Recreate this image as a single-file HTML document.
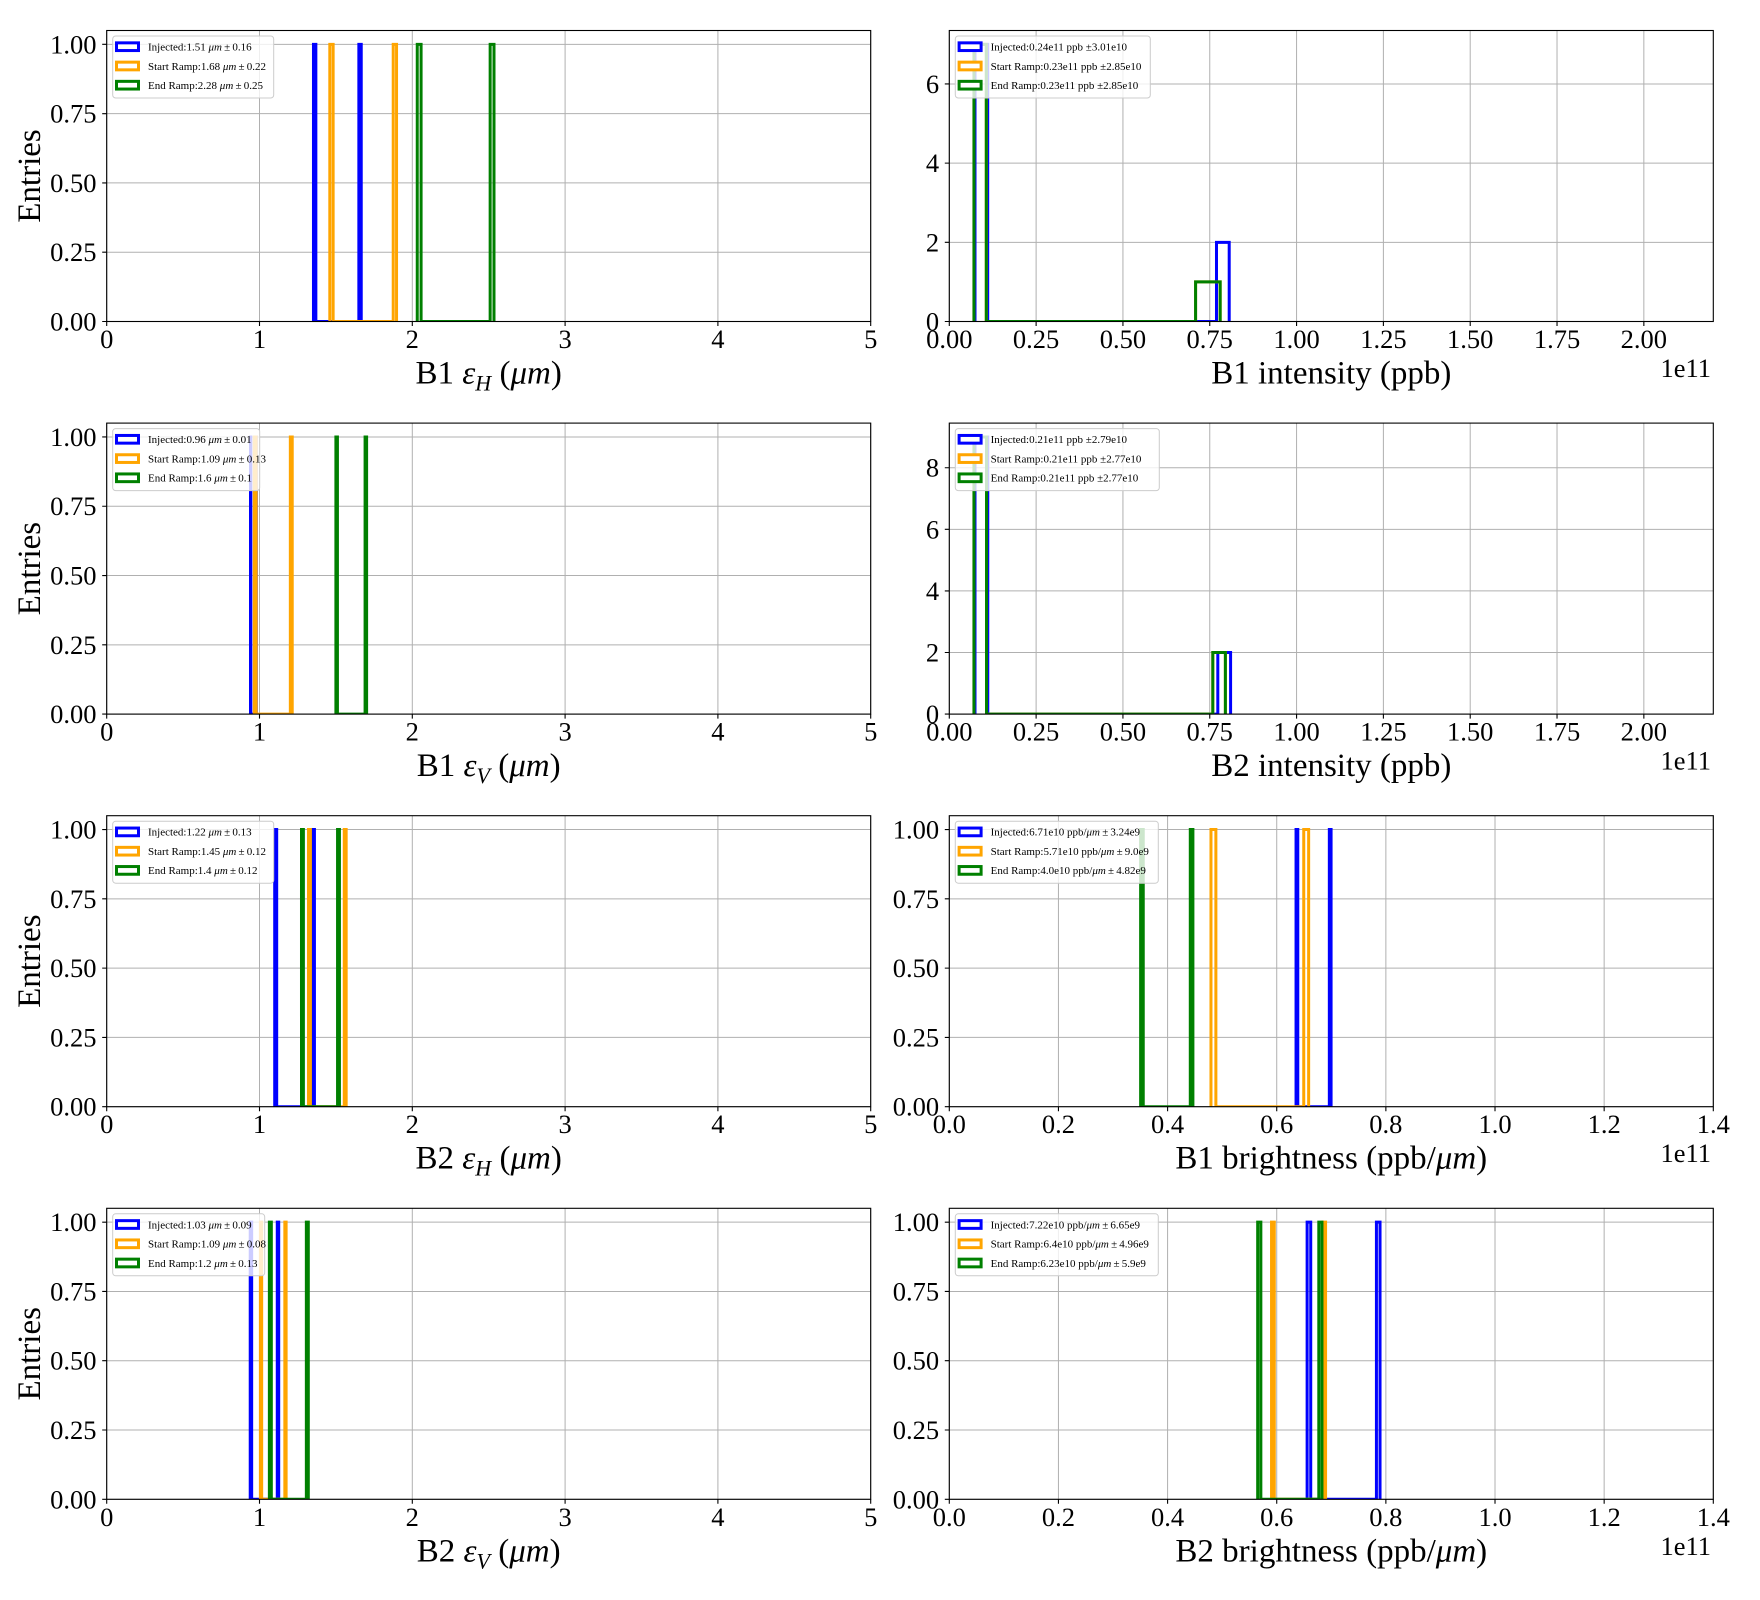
<!DOCTYPE html>
<html><head><meta charset="utf-8">
<style>
html,body{margin:0;padding:0;background:#fff;}
svg{display:block;font-family:"Liberation Serif","DejaVu Serif",serif;}
.d path{vector-effect:non-scaling-stroke;fill:none;stroke-width:3;stroke-linejoin:miter;}
.d path.g{stroke:#b0b0b0;stroke-width:1;}
.sp{fill:none;stroke:#000;stroke-width:1.1;}
.tk{fill:none;stroke:#000;stroke-width:1.1;}
.tl{font-size:26.5px;fill:#000;}
.yl{text-anchor:end;}
.xl{text-anchor:middle;}
.lab{font-size:33px;text-anchor:middle;fill:#000;}
.off{font-size:26.5px;text-anchor:end;}
.lg{fill:#fff;fill-opacity:0.8;stroke:#cccccc;stroke-width:1;}
.lt{font-size:11px;fill:#000;}
.pb{fill:#fff;stroke:#0000ff;stroke-width:3;}
.po{fill:#fff;stroke:#ffa500;stroke-width:3;}
.pg{fill:#fff;stroke:#008000;stroke-width:3;}
</style></head>
<body>
<svg width="1760" height="1600" viewBox="0 0 1760 1600" xmlns="http://www.w3.org/2000/svg">
<defs>
<clipPath id="cL" clipPathUnits="userSpaceOnUse"><rect x="0" y="0" width="5" height="1.05"/></clipPath>
<clipPath id="c2" clipPathUnits="userSpaceOnUse"><rect x="0" y="0" width="2.2" height="7.35"/></clipPath>
<clipPath id="c4" clipPathUnits="userSpaceOnUse"><rect x="0" y="0" width="2.2" height="9.45"/></clipPath>
<clipPath id="c6" clipPathUnits="userSpaceOnUse"><rect x="0" y="0" width="1.4" height="1.05"/></clipPath>
<path id="tkL" class="tk" d="M0 0v4.5M152.8 0v4.5M305.6 0v4.5M458.4 0v4.5M611.2 0v4.5M764 0v4.5M0 0h-4.5M0 -69.29h-4.5M0 -138.57h-4.5M0 -207.86h-4.5M0 -277.14h-4.5"/>
<path id="tk2" class="tk" d="M0 0v4.5M86.82 0v4.5M173.64 0v4.5M260.45 0v4.5M347.27 0v4.5M434.09 0v4.5M520.91 0v4.5M607.73 0v4.5M694.55 0v4.5M0 0h-4.5M0 -79.18h-4.5M0 -158.37h-4.5M0 -237.55h-4.5"/>
<path id="tk4" class="tk" d="M0 0v4.5M86.82 0v4.5M173.64 0v4.5M260.45 0v4.5M347.27 0v4.5M434.09 0v4.5M520.91 0v4.5M607.73 0v4.5M694.55 0v4.5M0 0h-4.5M0 -61.59h-4.5M0 -123.18h-4.5M0 -184.76h-4.5M0 -246.35h-4.5"/>
<path id="tk6" class="tk" d="M0 0v4.5M109.14 0v4.5M218.29 0v4.5M327.43 0v4.5M436.57 0v4.5M545.71 0v4.5M654.86 0v4.5M764 0v4.5M0 0h-4.5M0 -69.29h-4.5M0 -138.57h-4.5M0 -207.86h-4.5M0 -277.14h-4.5"/>
</defs>

<!-- ================= PANEL 1: B1 eps_H ================= -->
<g transform="translate(106.7,321.5)">
 <g class="d" transform="scale(152.8,-277.14)">
  <path class="g" d="M0 0V1.05M1 0V1.05M2 0V1.05M3 0V1.05M4 0V1.05M5 0V1.05M0 0H5M0 .25H5M0 .5H5M0 .75H5M0 1H5"/>
  <g clip-path="url(#cL)">
   <path stroke="#0000ff" d="M1.3532 0V1H1.3688V0H1.6502V1H1.6658V0"/>
   <path stroke="#ffa500" d="M1.4601 0V1H1.4819V0H1.8751V1H1.8969V0"/>
   <path stroke="#008000" d="M2.0324 0V1H2.0575V0H2.5095V1H2.5346V0"/>
  </g>
 </g>
 <rect class="sp" x="0" y="-291" width="764" height="291"/>
 <use href="#tkL"/>
 <g class="tl yl"><text x="-10.2" y="9">0.00</text><text x="-10.2" y="-60.3">0.25</text><text x="-10.2" y="-129.6">0.50</text><text x="-10.2" y="-198.9">0.75</text><text x="-10.2" y="-268.1">1.00</text></g>
 <g class="tl xl"><text x="0" y="26.5">0</text><text x="152.8" y="26.5">1</text><text x="305.6" y="26.5">2</text><text x="458.4" y="26.5">3</text><text x="611.2" y="26.5">4</text><text x="764" y="26.5">5</text></g>
 <text class="lab" x="382" y="62">B1 <tspan font-style="italic">ε</tspan><tspan font-style="italic" font-size="22" dy="7">H</tspan><tspan dy="-7"> (</tspan><tspan font-style="italic">μm</tspan>)</text>
 <text class="lab" transform="translate(-66.7,-145.5) rotate(-90)">Entries</text>
 <rect class="lg" x="6" y="-285.5" width="161" height="62" rx="3"/>
 <rect class="pb" x="9.8" y="-278.65" width="22" height="7.7"/>
 <rect class="po" x="9.8" y="-259.35" width="22" height="7.7"/>
 <rect class="pg" x="9.8" y="-240.15" width="22" height="7.7"/>
 <text class="lt" x="41.3" y="-271">Injected:1.51 <tspan font-style="italic">μm</tspan>&#8201;±&#8201;0.16</text>
 <text class="lt" x="41.3" y="-251.7">Start Ramp:1.68 <tspan font-style="italic">μm</tspan>&#8201;±&#8201;0.22</text>
 <text class="lt" x="41.3" y="-232.5">End Ramp:2.28 <tspan font-style="italic">μm</tspan>&#8201;±&#8201;0.25</text>
</g>

<!-- ================= PANEL 2: B1 intensity ================= -->
<g transform="translate(949.3,321.5)">
 <g class="d" transform="scale(347.27,-39.592)">
  <path class="g" d="M0 0V7.35M.25 0V7.35M.5 0V7.35M.75 0V7.35M1 0V7.35M1.25 0V7.35M1.5 0V7.35M1.75 0V7.35M2 0V7.35M0 0H2.2M0 2H2.2M0 4H2.2M0 6H2.2"/>
  <g clip-path="url(#c2)">
   <path stroke="#0000ff" d="M0.074 0V7H0.1106V0H0.7694V2H0.806V0"/>
   <path stroke="#ffa500" d="M0.071 0V7H0.1065V0H0.7092V1H0.78V0"/>
   <path stroke="#008000" d="M0.071 0V7H0.1065V0H0.7092V1H0.78V0"/>
  </g>
 </g>
 <rect class="sp" x="0" y="-291" width="764" height="291"/>
 <use href="#tk2"/>
 <g class="tl yl"><text x="-10.2" y="9">0</text><text x="-10.2" y="-70.2">2</text><text x="-10.2" y="-149.4">4</text><text x="-10.2" y="-228.6">6</text></g>
 <g class="tl xl"><text x="0" y="26.5">0.00</text><text x="86.82" y="26.5">0.25</text><text x="173.64" y="26.5">0.50</text><text x="260.45" y="26.5">0.75</text><text x="347.27" y="26.5">1.00</text><text x="434.09" y="26.5">1.25</text><text x="520.91" y="26.5">1.50</text><text x="607.73" y="26.5">1.75</text><text x="694.55" y="26.5">2.00</text></g>
 <text class="tl off" x="761.7" y="55.5">1e11</text>
 <text class="lab" x="382" y="62">B1 intensity (ppb)</text>
 <rect class="lg" x="6" y="-285.5" width="195" height="62" rx="3"/>
 <rect class="pb" x="9.8" y="-278.65" width="22" height="7.7"/>
 <rect class="po" x="9.8" y="-259.35" width="22" height="7.7"/>
 <rect class="pg" x="9.8" y="-240.15" width="22" height="7.7"/>
 <text class="lt" x="41.3" y="-271">Injected:0.24e11 ppb ±3.01e10</text>
 <text class="lt" x="41.3" y="-251.7">Start Ramp:0.23e11 ppb ±2.85e10</text>
 <text class="lt" x="41.3" y="-232.5">End Ramp:0.23e11 ppb ±2.85e10</text>
</g>

<!-- ================= PANEL 3: B1 eps_V ================= -->
<g transform="translate(106.7,714.1)">
 <g class="d" transform="scale(152.8,-277.14)">
  <path class="g" d="M0 0V1.05M1 0V1.05M2 0V1.05M3 0V1.05M4 0V1.05M5 0V1.05M0 0H5M0 .25H5M0 .5H5M0 .75H5M0 1H5"/>
  <g clip-path="url(#cL)">
   <path stroke="#0000ff" d="M0.9411 0V1H0.943V0H0.9771V1H0.979V0"/>
   <path stroke="#ffa500" d="M0.9658 0V1H0.9782V0H1.2018V1H1.2142V0"/>
   <path stroke="#008000" d="M1.5 0V1H1.51V0H1.691V1H1.701V0"/>
  </g>
 </g>
 <rect class="sp" x="0" y="-291" width="764" height="291"/>
 <use href="#tkL"/>
 <g class="tl yl"><text x="-10.2" y="9">0.00</text><text x="-10.2" y="-60.3">0.25</text><text x="-10.2" y="-129.6">0.50</text><text x="-10.2" y="-198.9">0.75</text><text x="-10.2" y="-268.1">1.00</text></g>
 <g class="tl xl"><text x="0" y="26.5">0</text><text x="152.8" y="26.5">1</text><text x="305.6" y="26.5">2</text><text x="458.4" y="26.5">3</text><text x="611.2" y="26.5">4</text><text x="764" y="26.5">5</text></g>
 <text class="lab" x="382" y="62">B1 <tspan font-style="italic">ε</tspan><tspan font-style="italic" font-size="22" dy="7">V</tspan><tspan dy="-7"> (</tspan><tspan font-style="italic">μm</tspan>)</text>
 <text class="lab" transform="translate(-66.7,-145.5) rotate(-90)">Entries</text>
 <rect class="lg" x="6" y="-285.5" width="147" height="62" rx="3"/>
 <rect class="pb" x="9.8" y="-278.65" width="22" height="7.7"/>
 <rect class="po" x="9.8" y="-259.35" width="22" height="7.7"/>
 <rect class="pg" x="9.8" y="-240.15" width="22" height="7.7"/>
 <text class="lt" x="41.3" y="-271">Injected:0.96 <tspan font-style="italic">μm</tspan>&#8201;±&#8201;0.01</text>
 <text class="lt" x="41.3" y="-251.7">Start Ramp:1.09 <tspan font-style="italic">μm</tspan>&#8201;±&#8201;0.13</text>
 <text class="lt" x="41.3" y="-232.5">End Ramp:1.6 <tspan font-style="italic">μm</tspan>&#8201;±&#8201;0.1</text>
</g>

<!-- ================= PANEL 4: B2 intensity ================= -->
<g transform="translate(949.3,714.1)">
 <g class="d" transform="scale(347.27,-30.794)">
  <path class="g" d="M0 0V9.45M.25 0V9.45M.5 0V9.45M.75 0V9.45M1 0V9.45M1.25 0V9.45M1.5 0V9.45M1.75 0V9.45M2 0V9.45M0 0H2.2M0 2H2.2M0 4H2.2M0 6H2.2M0 8H2.2"/>
  <g clip-path="url(#c4)">
   <path stroke="#0000ff" d="M0.074 0V9H0.1108V0H0.7732V2H0.81V0"/>
   <path stroke="#ffa500" d="M0.071 0V9H0.1072V0H0.7588V2H0.795V0"/>
   <path stroke="#008000" d="M0.071 0V9H0.1072V0H0.7588V2H0.795V0"/>
  </g>
 </g>
 <rect class="sp" x="0" y="-291" width="764" height="291"/>
 <use href="#tk4"/>
 <g class="tl yl"><text x="-10.2" y="9">0</text><text x="-10.2" y="-52.6">2</text><text x="-10.2" y="-114.2">4</text><text x="-10.2" y="-175.8">6</text><text x="-10.2" y="-237.4">8</text></g>
 <g class="tl xl"><text x="0" y="26.5">0.00</text><text x="86.82" y="26.5">0.25</text><text x="173.64" y="26.5">0.50</text><text x="260.45" y="26.5">0.75</text><text x="347.27" y="26.5">1.00</text><text x="434.09" y="26.5">1.25</text><text x="520.91" y="26.5">1.50</text><text x="607.73" y="26.5">1.75</text><text x="694.55" y="26.5">2.00</text></g>
 <text class="tl off" x="761.7" y="55.5">1e11</text>
 <text class="lab" x="382" y="62">B2 intensity (ppb)</text>
 <rect class="lg" x="6" y="-285.5" width="204" height="62" rx="3"/>
 <rect class="pb" x="9.8" y="-278.65" width="22" height="7.7"/>
 <rect class="po" x="9.8" y="-259.35" width="22" height="7.7"/>
 <rect class="pg" x="9.8" y="-240.15" width="22" height="7.7"/>
 <text class="lt" x="41.3" y="-271">Injected:0.21e11 ppb ±2.79e10</text>
 <text class="lt" x="41.3" y="-251.7">Start Ramp:0.21e11 ppb ±2.77e10</text>
 <text class="lt" x="41.3" y="-232.5">End Ramp:0.21e11 ppb ±2.77e10</text>
</g>

<!-- ================= PANEL 5: B2 eps_H ================= -->
<g transform="translate(106.7,1106.7)">
 <g class="d" transform="scale(152.8,-277.14)">
  <path class="g" d="M0 0V1.05M1 0V1.05M2 0V1.05M3 0V1.05M4 0V1.05M5 0V1.05M0 0H5M0 .25H5M0 .5H5M0 .75H5M0 1H5"/>
  <g clip-path="url(#cL)">
   <path stroke="#0000ff" d="M1.0995 0V1H1.1125V0H1.3465V1H1.3595V0"/>
   <path stroke="#ffa500" d="M1.3208 0V1H1.3332V0H1.5548V1H1.5672V0"/>
   <path stroke="#008000" d="M1.2748 0V1H1.2872V0H1.5108V1H1.5232V0"/>
  </g>
 </g>
 <rect class="sp" x="0" y="-291" width="764" height="291"/>
 <use href="#tkL"/>
 <g class="tl yl"><text x="-10.2" y="9">0.00</text><text x="-10.2" y="-60.3">0.25</text><text x="-10.2" y="-129.6">0.50</text><text x="-10.2" y="-198.9">0.75</text><text x="-10.2" y="-268.1">1.00</text></g>
 <g class="tl xl"><text x="0" y="26.5">0</text><text x="152.8" y="26.5">1</text><text x="305.6" y="26.5">2</text><text x="458.4" y="26.5">3</text><text x="611.2" y="26.5">4</text><text x="764" y="26.5">5</text></g>
 <text class="lab" x="382" y="62">B2 <tspan font-style="italic">ε</tspan><tspan font-style="italic" font-size="22" dy="7">H</tspan><tspan dy="-7"> (</tspan><tspan font-style="italic">μm</tspan>)</text>
 <text class="lab" transform="translate(-66.7,-145.5) rotate(-90)">Entries</text>
 <rect class="lg" x="6" y="-285.5" width="161" height="62" rx="3"/>
 <rect class="pb" x="9.8" y="-278.65" width="22" height="7.7"/>
 <rect class="po" x="9.8" y="-259.35" width="22" height="7.7"/>
 <rect class="pg" x="9.8" y="-240.15" width="22" height="7.7"/>
 <text class="lt" x="41.3" y="-271">Injected:1.22 <tspan font-style="italic">μm</tspan>&#8201;±&#8201;0.13</text>
 <text class="lt" x="41.3" y="-251.7">Start Ramp:1.45 <tspan font-style="italic">μm</tspan>&#8201;±&#8201;0.12</text>
 <text class="lt" x="41.3" y="-232.5">End Ramp:1.4 <tspan font-style="italic">μm</tspan>&#8201;±&#8201;0.12</text>
</g>

<!-- ================= PANEL 6: B1 brightness ================= -->
<g transform="translate(949.3,1106.7)">
 <g class="d" transform="scale(545.71,-277.14)">
  <path class="g" d="M0 0V1.05M.2 0V1.05M.4 0V1.05M.6 0V1.05M.8 0V1.05M1 0V1.05M1.2 0V1.05M1.4 0V1.05M0 0H1.4M0 .25H1.4M0 .5H1.4M0 .75H1.4M0 1H1.4"/>
  <g clip-path="url(#c6)">
   <path stroke="#0000ff" d="M0.6354 0V1H0.6386V0H0.6964V1H0.6996V0"/>
   <path stroke="#ffa500" d="M0.4795 0V1H0.4885V0H0.6495V1H0.6585V0"/>
   <path stroke="#008000" d="M0.3506 0V1H0.3554V0H0.4416V1H0.4464V0"/>
  </g>
 </g>
 <rect class="sp" x="0" y="-291" width="764" height="291"/>
 <use href="#tk6"/>
 <g class="tl yl"><text x="-10.2" y="9">0.00</text><text x="-10.2" y="-60.3">0.25</text><text x="-10.2" y="-129.6">0.50</text><text x="-10.2" y="-198.9">0.75</text><text x="-10.2" y="-268.1">1.00</text></g>
 <g class="tl xl"><text x="0" y="26.5">0.0</text><text x="109.14" y="26.5">0.2</text><text x="218.29" y="26.5">0.4</text><text x="327.43" y="26.5">0.6</text><text x="436.57" y="26.5">0.8</text><text x="545.71" y="26.5">1.0</text><text x="654.86" y="26.5">1.2</text><text x="764" y="26.5">1.4</text></g>
 <text class="tl off" x="761.7" y="55.5">1e11</text>
 <text class="lab" x="382" y="62">B1 brightness (ppb/<tspan font-style="italic">μm</tspan>)</text>
 <rect class="lg" x="6" y="-285.5" width="203" height="62" rx="3"/>
 <rect class="pb" x="9.8" y="-278.65" width="22" height="7.7"/>
 <rect class="po" x="9.8" y="-259.35" width="22" height="7.7"/>
 <rect class="pg" x="9.8" y="-240.15" width="22" height="7.7"/>
 <text class="lt" x="41.3" y="-271">Injected:6.71e10 ppb/<tspan font-style="italic">μm</tspan>&#8201;±&#8201;3.24e9</text>
 <text class="lt" x="41.3" y="-251.7">Start Ramp:5.71e10 ppb/<tspan font-style="italic">μm</tspan>&#8201;±&#8201;9.0e9</text>
 <text class="lt" x="41.3" y="-232.5">End Ramp:4.0e10 ppb/<tspan font-style="italic">μm</tspan>&#8201;±&#8201;4.82e9</text>
</g>

<!-- ================= PANEL 7: B2 eps_V ================= -->
<g transform="translate(106.7,1499.3)">
 <g class="d" transform="scale(152.8,-277.14)">
  <path class="g" d="M0 0V1.05M1 0V1.05M2 0V1.05M3 0V1.05M4 0V1.05M5 0V1.05M0 0H5M0 .25H5M0 .5H5M0 .75H5M0 1H5"/>
  <g clip-path="url(#cL)">
   <path stroke="#0000ff" d="M0.9393 0V1H0.9487V0H1.1163V1H1.1257V0"/>
   <path stroke="#ffa500" d="M1.0058 0V1H1.0142V0H1.1658V1H1.1742V0"/>
   <path stroke="#008000" d="M1.0646 0V1H1.0774V0H1.3066V1H1.3194V0"/>
  </g>
 </g>
 <rect class="sp" x="0" y="-291" width="764" height="291"/>
 <use href="#tkL"/>
 <g class="tl yl"><text x="-10.2" y="9">0.00</text><text x="-10.2" y="-60.3">0.25</text><text x="-10.2" y="-129.6">0.50</text><text x="-10.2" y="-198.9">0.75</text><text x="-10.2" y="-268.1">1.00</text></g>
 <g class="tl xl"><text x="0" y="26.5">0</text><text x="152.8" y="26.5">1</text><text x="305.6" y="26.5">2</text><text x="458.4" y="26.5">3</text><text x="611.2" y="26.5">4</text><text x="764" y="26.5">5</text></g>
 <text class="lab" x="382" y="62">B2 <tspan font-style="italic">ε</tspan><tspan font-style="italic" font-size="22" dy="7">V</tspan><tspan dy="-7"> (</tspan><tspan font-style="italic">μm</tspan>)</text>
 <text class="lab" transform="translate(-66.7,-145.5) rotate(-90)">Entries</text>
 <rect class="lg" x="6" y="-285.5" width="152" height="62" rx="3"/>
 <rect class="pb" x="9.8" y="-278.65" width="22" height="7.7"/>
 <rect class="po" x="9.8" y="-259.35" width="22" height="7.7"/>
 <rect class="pg" x="9.8" y="-240.15" width="22" height="7.7"/>
 <text class="lt" x="41.3" y="-271">Injected:1.03 <tspan font-style="italic">μm</tspan>&#8201;±&#8201;0.09</text>
 <text class="lt" x="41.3" y="-251.7">Start Ramp:1.09 <tspan font-style="italic">μm</tspan>&#8201;±&#8201;0.08</text>
 <text class="lt" x="41.3" y="-232.5">End Ramp:1.2 <tspan font-style="italic">μm</tspan>&#8201;±&#8201;0.13</text>
</g>

<!-- ================= PANEL 8: B2 brightness ================= -->
<g transform="translate(949.3,1499.3)">
 <g class="d" transform="scale(545.71,-277.14)">
  <path class="g" d="M0 0V1.05M.2 0V1.05M.4 0V1.05M.6 0V1.05M.8 0V1.05M1 0V1.05M1.2 0V1.05M1.4 0V1.05M0 0H1.4M0 .25H1.4M0 .5H1.4M0 .75H1.4M0 1H1.4"/>
  <g clip-path="url(#c6)">
   <path stroke="#0000ff" d="M0.6557 0V1H0.6623V0H0.7827V1H0.7893V0"/>
   <path stroke="#ffa500" d="M0.5905 0V1H0.5955V0H0.6845V1H0.6895V0"/>
   <path stroke="#008000" d="M0.5651 0V1H0.5709V0H0.6771V1H0.6829V0"/>
  </g>
 </g>
 <rect class="sp" x="0" y="-291" width="764" height="291"/>
 <use href="#tk6"/>
 <g class="tl yl"><text x="-10.2" y="9">0.00</text><text x="-10.2" y="-60.3">0.25</text><text x="-10.2" y="-129.6">0.50</text><text x="-10.2" y="-198.9">0.75</text><text x="-10.2" y="-268.1">1.00</text></g>
 <g class="tl xl"><text x="0" y="26.5">0.0</text><text x="109.14" y="26.5">0.2</text><text x="218.29" y="26.5">0.4</text><text x="327.43" y="26.5">0.6</text><text x="436.57" y="26.5">0.8</text><text x="545.71" y="26.5">1.0</text><text x="654.86" y="26.5">1.2</text><text x="764" y="26.5">1.4</text></g>
 <text class="tl off" x="761.7" y="55.5">1e11</text>
 <text class="lab" x="382" y="62">B2 brightness (ppb/<tspan font-style="italic">μm</tspan>)</text>
 <rect class="lg" x="6" y="-285.5" width="203" height="62" rx="3"/>
 <rect class="pb" x="9.8" y="-278.65" width="22" height="7.7"/>
 <rect class="po" x="9.8" y="-259.35" width="22" height="7.7"/>
 <rect class="pg" x="9.8" y="-240.15" width="22" height="7.7"/>
 <text class="lt" x="41.3" y="-271">Injected:7.22e10 ppb/<tspan font-style="italic">μm</tspan>&#8201;±&#8201;6.65e9</text>
 <text class="lt" x="41.3" y="-251.7">Start Ramp:6.4e10 ppb/<tspan font-style="italic">μm</tspan>&#8201;±&#8201;4.96e9</text>
 <text class="lt" x="41.3" y="-232.5">End Ramp:6.23e10 ppb/<tspan font-style="italic">μm</tspan>&#8201;±&#8201;5.9e9</text>
</g>
</svg>
</body></html>
